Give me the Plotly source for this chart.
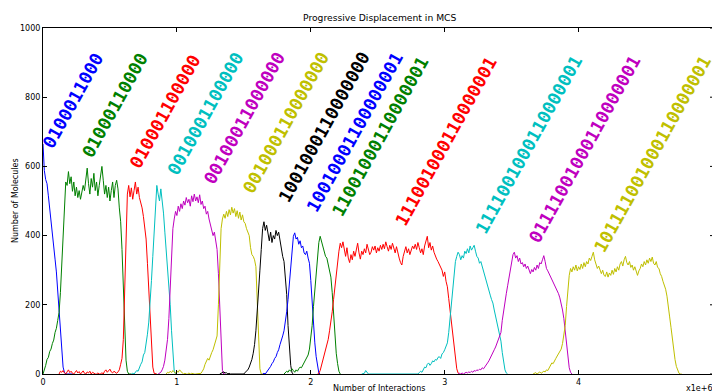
import numpy as np
import plotly.graph_objects as go

# ---- data (x in units of 1e6 interactions, sampled every 0.01) ----
STEP = 0.01

labels = ["0100011000", "01000110000", "010001100000", "0010001100000",
          "00100011000000", "001000110000000", "1001000110000000",
          "10010001100000001", "11001000110000001", "111001000110000001",
          "1111001000110000001", "01111001000110000001", "101111001000110000001"]

colors = ["#0000ff", "#008000", "#ff0000", "#00bfbf", "#bf00bf", "#bfbf00", "#000000",
          "#0000ff", "#008000", "#ff0000", "#00bfbf", "#bf00bf", "#bfbf00"]

starts = [0.00, 0.00, 0.12, 0.66, 0.86, 0.92, 1.32, 1.64, 1.80, 2.05, 2.38, 3.10, 3.66]

s01 = [665, 588, 562, 550, 515, 482, 448, 405, 378, 332, 295, 242, 190, 122, 65, 20, 5, 0, 0, 0, 2, 0, 0]

s02 = [0, 10, 25, 42, 48, 65, 72, 88, 98, 120, 132, 155, 178, 235, 320, 420, 505, 555,
       545, 585, 550, 570, 528, 555, 515, 540, 510, 530, 505, 525, 545, 530, 560,
       595, 550, 520, 565, 540, 580, 530, 555, 515, 545, 570, 600, 560, 520, 545,
       510, 540, 500, 530, 555, 510, 545, 560, 535, 480, 440,
       360, 240, 130, 40, 8, 0, 0, 0]

s03 = [0, 8, 5, 10, 3, 0, 6, 12, 4, 8, 2, 0, 5, 10, 3, 7, 0, 4, 9, 2,
       0, 6, 3, 8, 0, 5, 2, 0, 0, 3, 0, 0, 4, 0, 8, 12, 5, 10, 14, 6, 3, 8, 5, 2, 6,
       12, 28, 45, 100, 230, 400, 520,
       545, 512, 538, 505, 530, 555, 520, 540, 510, 495,
       480, 455, 420, 390, 320, 245, 165, 85, 20, 2, 0, 0]

s04 = [0, 2, 0, 5, 10, 8, 20, 28, 35, 55, 62, 85, 115, 150, 200, 270, 340, 420, 500, 545,
       520, 500, 535, 505, 465, 410, 360, 315, 260, 200, 125, 50, 8, 0, 0]

s05 = [0, 2, 5, 12, 22, 40, 65, 100, 160, 260, 350, 420, 448, 470, 458, 485, 470, 492,
       478, 500, 488, 510, 495, 505, 485, 515, 498, 520, 500, 512, 495, 518, 490, 500,
       478, 485, 462, 470, 448, 430, 420, 400, 410, 385, 360, 290, 190, 70, 10, 0, 0]

s06 = [0, 5, 3, 8, 4, 10, 6, 2, 8, 5, 12, 6, 3, 0, 2, 0, 0, 3, 0, 2, 0, 0, 0, 0, 2, 0,
       2, 8, 15, 28, 38, 45, 40, 55, 62, 70, 85, 95, 110, 200, 330, 420,
       448, 462, 450, 470, 455, 475, 460, 482, 465, 478, 455, 472, 450, 468, 445, 460,
       440, 435, 420, 410, 400,
       365, 345, 340, 330, 310, 200, 80, 15, 0, 0]

s07 = [0, 2, 5, 6, 3, 4, 0, 2, 0, 0, 0, 0, 0, 0, 0, 0,
       0, 2, 0, 5, 8, 12, 20, 30, 42, 60, 85, 125, 175, 235, 300, 360, 420, 440, 415, 430,
       405, 385, 410, 380, 400, 390, 415, 400, 410, 385, 360, 340, 325, 285, 230, 140,
       70, 25, 3, 0]

s08 = [0, 2, 0, 5, 10, 18, 22, 30, 35, 45, 50, 62, 70, 85, 95, 110, 125, 150, 180, 215,
       262, 325, 370, 398, 408, 390, 395, 375, 385, 365, 370, 350, 345, 355, 335, 320,
       270, 200, 140, 90, 50, 20, 3, 0]

s09 = [0, 3, 8, 5, 12, 8, 15, 10, 5, 12, 8, 15, 20, 18, 25, 32, 40, 48, 55, 72, 100,
       140, 195, 245, 290, 350, 380, 398, 385, 365, 358, 340, 335, 315, 305, 280, 235,
       170, 110, 60, 30, 8, 0]

s10 = [0, 2, 10, 25, 38, 52, 62, 80, 100, 125,
       150, 180, 215, 250, 290, 330, 355, 378, 365, 382,
       360, 340, 365, 335, 322, 345, 330, 355, 340, 362,
       378, 350, 332, 355, 345, 362, 350, 375, 360, 345,
       352, 368, 358, 370, 350, 365, 355, 372, 360, 375,
       362, 382, 368, 355, 372, 360, 378, 362, 350, 368,
       345, 335, 322, 315, 340, 355, 368, 350, 362, 345,
       358, 370, 362, 375, 360, 380, 365, 350, 362, 345,
       370, 388, 398, 365, 380, 358, 370, 352, 338, 332,
       325, 315, 310, 300, 282, 295, 268, 252, 218, 185,
       145, 110, 72, 40, 15, 3, 0]

s11 = [0, 0, 2, 10, 3, 0, 0, 0, 0, 0, 0, 0, 0, 0, 0, 0, 0, 0, 0, 0,
       0, 0, 0, 0, 0, 0, 0, 0, 0, 0, 0, 0, 0, 0, 0, 0, 0, 0, 0, 0,
       0, 2, 0, 4, 8, 5, 15, 20, 18, 28,
       32, 25, 30, 38, 35, 42, 40, 48, 50, 45,
       58, 62, 70, 78, 90, 120, 160, 205, 250, 290,
       325, 340, 352, 345, 330, 342, 335, 355, 348, 362,
       350, 370, 358, 365, 372, 355, 340, 335, 320, 325,
       310, 300, 285, 268, 255, 240, 228, 215, 205, 185,
       165, 145, 128, 115, 95, 62, 30, 12, 3, 0]

s12 = [0, 2, 0, 3, 0, 2, 5, 3, 6, 4,
       8, 5, 10, 8, 12, 10, 14, 12, 18, 15,
       22, 28, 32, 38, 45, 55, 62, 70, 78, 88,
       98, 105, 120, 155, 185, 210, 232, 255, 278, 300,
       325, 345, 352, 335, 342, 325, 335, 318, 322, 310,
       318, 305, 312, 298, 290, 302, 295, 308, 300, 315,
       305, 322, 318, 330, 342, 325, 305, 298, 290, 280,
       272, 265, 258, 250, 242, 232, 220, 205, 185, 160,
       120, 85, 45, 18, 5, 0]

s13 = [0, 2, 4, 0, 3, 6, 2, 5, 8, 6,
       12, 10, 18, 25, 32, 30, 40, 45, 52, 58,
       62, 72, 88, 110, 140, 195, 250, 285, 305, 295,
       310, 300, 315, 298, 310, 302, 318, 305, 322, 310,
       325, 318, 335, 328, 340, 352, 330, 318, 305, 312,
       298, 290, 300, 285, 282, 295, 280, 292, 285, 300,
       288, 305, 295, 310, 300, 318, 325, 312, 330, 340,
       322, 315, 325, 308, 315, 300, 310, 295, 285, 298,
       305, 318, 310, 325, 315, 330, 320, 335, 325, 338,
       320, 315, 325, 308, 305, 290, 282, 268, 258, 245,
       225, 200, 165, 135, 100, 70, 42, 22, 8, 2,
       0, 0]

series_values = [s01, s02, s03, s04, s05, s06, s07, s08, s09, s10, s11, s12, s13]

# label centres (data coordinates)
label_x = [0.226, 0.540, 0.910, 1.212, 1.507, 1.813, 2.101, 2.329, 2.523, 3.012, 3.628, 4.046, 4.554]
label_y = [788, 777, 758, 752, 739, 726, 714, 700, 687, 674, 662, 651, 636]

x_ticks = [0, 1, 2, 3, 4]
y_ticks = [0, 200, 400, 600, 800, 1000]

# ---- figure ----
fig = go.Figure()
for start, vals, col in zip(starts, series_values, colors):
    xs = np.round(start + STEP * np.arange(len(vals)), 3)
    fig.add_trace(go.Scatter(x=xs, y=vals, mode="lines",
                             line=dict(color=col, width=1), showlegend=False,
                             hoverinfo="skip"))

for txt, lx, ly, col in zip(labels, label_x, label_y, colors):
    fig.add_annotation(x=lx, y=ly, xref="x", yref="y", text=txt, showarrow=False,
                       textangle=-61, xanchor="center", yanchor="middle",
                       font=dict(family="DejaVu Sans Mono", size=17.5, color=col,
                                 weight="bold"))

W, H = 712, 392
L, T, B = 43, 28, 18
plot_w = W - L
x_max = plot_w / 133.9

fig.add_annotation(text="Progressive Displacement in MCS", xref="paper", yref="paper",
                   x=0.5 * 672 / plot_w, y=1, yshift=11, xanchor="center", yanchor="middle",
                   showarrow=False, font=dict(family="DejaVu Sans", size=9.2, color="#000"))
fig.add_annotation(text="Number of Interactions", xref="paper", yref="paper",
                   x=0.5 * 672 / plot_w, y=0, yshift=-14, xanchor="center", yanchor="middle",
                   showarrow=False, font=dict(family="DejaVu Sans", size=8, color="#000"))
fig.add_annotation(text="Number of Molecules", xref="paper", yref="paper",
                   x=0, y=0.5, xshift=-28, xanchor="center", yanchor="middle", textangle=-90,
                   showarrow=False, font=dict(family="DejaVu Sans", size=8, color="#000"))
fig.add_annotation(text="x1e+6", xref="paper", yref="paper",
                   x=672 / plot_w, y=0, yshift=-14, xanchor="right", yanchor="middle",
                   showarrow=False, font=dict(family="DejaVu Sans", size=8, color="#000"))

# inward ticks on the (cropped) right spine
for yv in y_ticks:
    fig.add_shape(type="line", xref="paper", yref="y", x0=(710 - L) / plot_w, x1=1.0,
                  y0=yv, y1=yv, line=dict(color="#000", width=1))

fig.update_layout(
    width=W, height=H,
    margin=dict(l=L, r=0, t=T, b=B, pad=0),
    paper_bgcolor="white", plot_bgcolor="white",
    font=dict(family="DejaVu Sans", size=8, color="#000"),
    xaxis=dict(range=[0, x_max], tickvals=x_ticks, ticktext=[str(v) for v in x_ticks],
               ticks="inside", ticklen=4, tickcolor="#000", showline=True, linecolor="#000",
               linewidth=1, mirror="ticks", showgrid=False, zeroline=False,
               tickfont=dict(size=8)),
    yaxis=dict(range=[0, 1000], tickvals=y_ticks, ticktext=[str(v) for v in y_ticks],
               ticks="inside", ticklen=4, tickcolor="#000", showline=True, linecolor="#000",
               linewidth=1, mirror=False, showgrid=False, zeroline=False,
               tickfont=dict(size=8)),
)

fig.write_html("out.html", config={"displayModeBar": False},
               post_script="document.body.style.margin='0';document.body.style.overflow='hidden';")
